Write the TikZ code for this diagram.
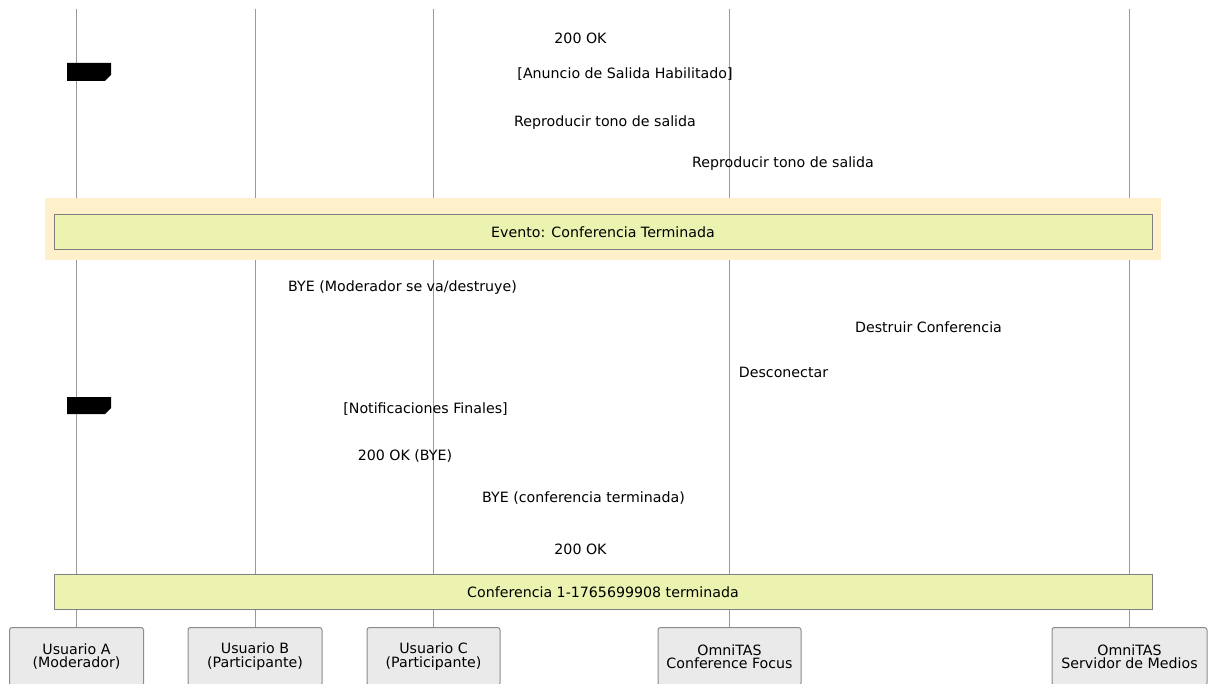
\documentclass[tikz,border=0pt]{standalone}
\usepackage{fontspec}
\setmainfont{DejaVu Sans}
\definecolor{lifeln}{RGB}{153,153,153}
\definecolor{notefill}{RGB}{236,242,176}
\definecolor{noteline}{RGB}{128,128,128}
\definecolor{evbg}{RGB}{255,240,204}
\definecolor{actfill}{RGB}{234,234,234}
\definecolor{actline}{RGB}{140,140,140}
\tikzset{
  msg/.style={inner sep=0pt, anchor=base, font=\fontsize{14.2}{14}\selectfont},
  actor/.style={draw=actline, fill=actfill, rounded corners=2.5pt, line width=1pt, minimum height=58pt, inner sep=0pt, anchor=north, align=center, font=\fontsize{14.2}{13.3}\selectfont},
  life/.style={draw=lifeln, line width=1pt},
  notebox/.style={draw=noteline, fill=notefill, line width=1pt, inner sep=0pt},
  blacknote/.style={fill=black}
}
\begin{document}
\begin{tikzpicture}[x=1pt,y=-1pt]
\clip (0,0) rectangle (1209,684);
\useasboundingbox (0,0) rectangle (1209,684);
\fill[white] (0,0) rectangle (1209,684);

% actor boxes
\node[actor, minimum width=134pt] (pA) at (76.5,627) {Usuario A\\(Moderador)};
\node[actor, minimum width=134pt] (pB) at (255,627) {Usuario B\\(Participante)};
\node[actor, minimum width=133pt] (pC) at (433.5,627) {Usuario C\\(Participante)};
\node[actor, minimum width=143pt] (pF) at (729.5,627) {OmniTAS\\Conference Focus};
\node[actor, minimum width=155pt] (pM) at (1129.5,627) {OmniTAS\\Servidor de Medios};

% lifeline tops
\coordinate (tA) at (76.5,9);
\coordinate (tB) at (255,9);
\coordinate (tC) at (433.5,9);
\coordinate (tF) at (729.5,9);
\coordinate (tM) at (1129.5,9);

\draw[life] (tA) -- (pA.north);
\draw[life] (tB) -- (pB.north);
\draw[life] (tC) -- (pC.north);
\draw[life] (tF) -- (pF.north);
\draw[life] (tM) -- (pM.north);

% event band
\fill[evbg] (45,198) rectangle (1161,260);
\node[notebox, minimum width=1098pt, minimum height=35pt] (ev) at (603,232.5) {};
\node[msg] (evt) at (603,238) {Evento: Conferencia Terminada};

% final note
\node[notebox, minimum width=1098pt, minimum height=35pt] (fin) at (603,591.5) {};
\node[msg] (fint) at (603,597.3) {Conferencia 1-1765699908 terminada};

% black notes
\fill[blacknote] (67,63) -- (111,63) -- (111,75) -- (105,81) -- (67,81) -- cycle;
\fill[blacknote] (67,397) -- (111,397) -- (111,408) -- (105,414) -- (67,414) -- cycle;

% message labels
\node[msg] (m1) at (580.5,43.3) {200 OK};
\node[msg] (m2) at (625,79) {[Anuncio de Salida Habilitado]};
\node[msg] (m3) at (605,126.7) {Reproducir tono de salida};
\node[msg] (m4) at (783,168) {Reproducir tono de salida};
\node[msg] (m5) at (402.5,291.3) {BYE (Moderador se va/destruye)};
\node[msg] (m6) at (928.5,333) {Destruir Conferencia};
\node[msg] (m7) at (783.5,377) {Desconectar};
\node[msg] (m8) at (425.5,413.3) {[Notificaciones Finales]};
\node[msg] (m9) at (405,460) {200 OK (BYE)};
\node[msg] (m10) at (583.5,502.3) {BYE (conferencia terminada)};
\node[msg] (m11) at (580.5,554) {200 OK};
\end{tikzpicture}
\end{document}
